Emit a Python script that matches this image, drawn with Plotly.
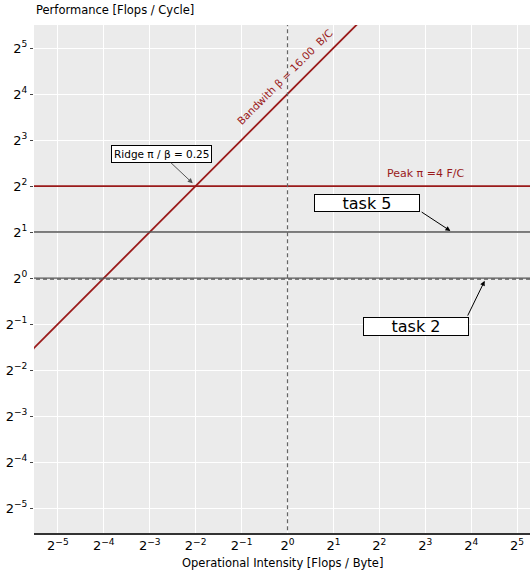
import math
import plotly.graph_objects as go

# ---- data ----
peak_pi = 4.0            # Flops / Cycle
bandwidth_beta = 16.0    # Bytes / Cycle
ridge = peak_pi / bandwidth_beta
task_names = ["task 5", "task 2"]
task_perf = [2.0, 1.0]          # horizontal lines
task_intensity = [12.0, 20.0]   # annotated points
exp_ticks = list(range(-5, 6))

RED = "#9a1a1a"
GRAY = "#555555"
FONT = "DejaVu Sans"

def tick_text(k):
    s = str(k).replace("-", "\u2212")
    return "2<sup>" + s + "</sup>"

tickvals = [2.0 ** k for k in exp_ticks]
ticktext = [tick_text(k) for k in exp_ticks]

fig = go.Figure()

x_span = [2.0 ** -7, 2.0 ** 7]
# bandwidth roof
bx = [2.0 ** -7, 2.0 ** 3]
fig.add_trace(go.Scatter(x=bx, y=[bandwidth_beta * v for v in bx], mode="lines",
                         line=dict(color=RED, width=1.8), hoverinfo="skip"))
# peak roof
fig.add_trace(go.Scatter(x=x_span, y=[peak_pi, peak_pi], mode="lines",
                         line=dict(color=RED, width=1.8), hoverinfo="skip"))
# task 5 line
fig.add_trace(go.Scatter(x=x_span, y=[task_perf[0]] * 2, mode="lines",
                         line=dict(color=GRAY, width=1.5), hoverinfo="skip"))
# task 2 line (solid + dashed)
fig.add_trace(go.Scatter(x=x_span, y=[task_perf[1]] * 2, mode="lines",
                         line=dict(color=GRAY, width=1.2), hoverinfo="skip"))
fig.add_trace(go.Scatter(x=x_span, y=[task_perf[1] * 0.985] * 2, mode="lines",
                         line=dict(color=GRAY, width=1.3, dash="4px,3px"), hoverinfo="skip"))
# vertical dashed line at intensity 1
fig.add_trace(go.Scatter(x=[1, 1], y=x_span, mode="lines",
                         line=dict(color="#666666", width=1.2, dash="4px,3px"), hoverinfo="skip"))

ann = []
# bandwidth label
ann.append(dict(x=math.log10(1.0), y=math.log10(bandwidth_beta), xref="x", yref="y",
                text="Bandwith β = 16.00\u00a0\u00a0B/C", showarrow=False, textangle=-45,
                xshift=-3, yshift=17, font=dict(family=FONT, size=10.5, color=RED)))
# peak label
ann.append(dict(x=math.log10(8.0), y=math.log10(peak_pi), xref="x", yref="y",
                text="Peak π =4 F/C", showarrow=False, yshift=13,
                font=dict(family=FONT, size=11, color=RED)))
# ridge label
ann.append(dict(x=math.log10(ridge), y=math.log10(peak_pi), xref="x", yref="y",
                text="Ridge π / β = 0.25", showarrow=True, ax=-34, ay=-32,
                arrowhead=2, arrowsize=1, arrowwidth=1, arrowcolor=GRAY, standoff=4,
                bgcolor="white", bordercolor="black", borderwidth=1, borderpad=2,
                font=dict(family=FONT, size=10.5, color="black")))
# task boxes
box_shift = [(-85, 29, 16), (-70, -48, 17)]
arrow_tail = [(-32, -21, 2), (-19, 39, 3)]
for name, xi, yi, (xs, ys, h), (tx, ty, so) in zip(task_names, task_intensity, task_perf, box_shift, arrow_tail):
    ann.append(dict(x=math.log10(xi), y=math.log10(yi), xref="x", yref="y",
                    text=name, showarrow=False, xshift=xs, yshift=ys,
                    width=104, height=h, bgcolor="white", bordercolor="black",
                    borderwidth=1, borderpad=0,
                    font=dict(family=FONT, size=16, color="black")))
    ann.append(dict(x=math.log10(xi), y=math.log10(yi), xref="x", yref="y",
                    text="", showarrow=True, ax=tx, ay=ty, arrowhead=2, arrowsize=1,
                    arrowwidth=1, arrowcolor="black", standoff=so))
# axis titles
ann.append(dict(x=0, y=1, xref="paper", yref="paper", xanchor="left", yanchor="bottom",
                yshift=6, text="Performance [Flops / Cycle]", showarrow=False,
                font=dict(family=FONT, size=11.5, color="black")))
ann.append(dict(x=0.5, y=0, xref="paper", yref="paper", xanchor="center", yanchor="top",
                yshift=-21, text="Operational Intensity [Flops / Byte]", showarrow=False,
                font=dict(family=FONT, size=11.5, color="black")))

fig.update_layout(
    width=530, height=571,
    margin=dict(l=34, r=0, t=25, b=38),
    paper_bgcolor="white", plot_bgcolor="#ebebeb",
    showlegend=False, annotations=ann,
    font=dict(family=FONT, color="black"),
)
fig.update_xaxes(type="log", range=[math.log10(2 ** -5.52), math.log10(2 ** 5.28)],
                 tickvals=tickvals, ticktext=ticktext, showgrid=True, gridcolor="white",
                 gridwidth=1.2, zeroline=False, showline=True, linecolor="#333333",
                 linewidth=1.5, ticks="", tickfont=dict(family=FONT, size=13),
                 automargin=False)
fig.update_yaxes(type="log", range=[math.log10(2 ** -5.54), math.log10(2 ** 5.5)],
                 tickvals=tickvals, ticktext=ticktext, showgrid=True, gridcolor="white",
                 gridwidth=1.2, zeroline=False, showline=False, ticks="outside",
                 ticklen=3, tickcolor="#444444", tickwidth=1,
                 tickfont=dict(family=FONT, size=13), automargin=False)

fig.write_html("out.html", config={"displayModeBar": False},
               post_script="document.body.style.margin='0';document.body.style.overflow='hidden';")
